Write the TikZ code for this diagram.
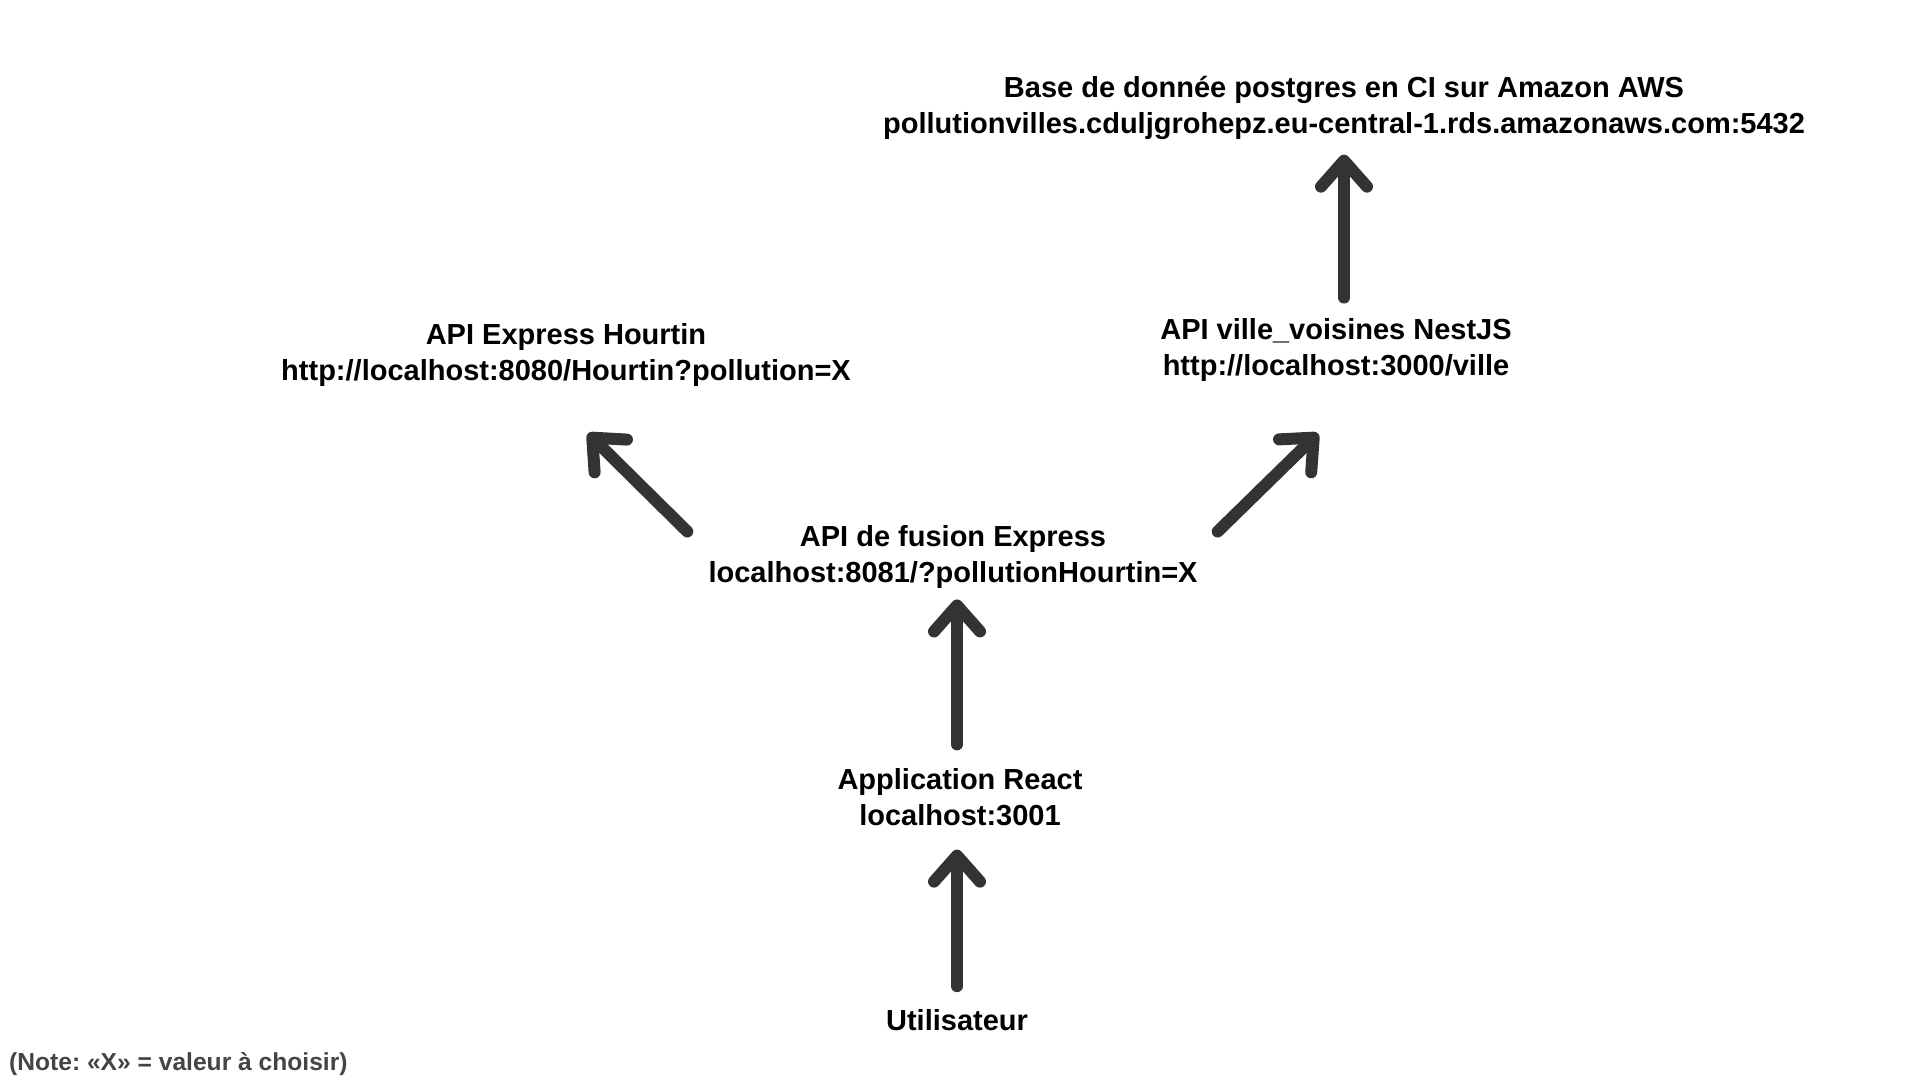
\documentclass[tikz,border=0pt]{standalone}
\usepackage{fontspec}
\setmainfont{Liberation Sans}
\usepackage{xcolor}
\usepackage{tikz}
\usetikzlibrary{arrows.meta}

\definecolor{arrowgray}{HTML}{333333}
\definecolor{notegray}{HTML}{444444}

\begin{document}
\frenchspacing
\begin{tikzpicture}[x=1pt, y=1pt]
          % Define styles
          \tikzstyle{service} = [align=center, inner sep=0pt, font=\fontsize{29}{35.5}\selectfont\bfseries]
          \tikzstyle{flow} = [arrowgray, line width=12pt, line cap=round, line join=round,
                              -{Straight Barb[length=26pt, width=46pt, round]}]

          % Page frame
          \useasboundingbox (0,0) rectangle (1920,1080);

          % Services
          \node[service] (db)      at (1344,972) {Base de donnée postgres en CI sur Amazon AWS\\pollutionvilles.cduljgrohepz.eu-central-1.rds.amazonaws.com:5432};
          \node[service] (nest)    at (1336,730) {API ville\_voisines NestJS\\http://localhost:3000/ville};
          \node[service] (hourtin) at (566,725)  {API Express Hourtin\\http://localhost:8080/Hourtin?pollution=X};
          \node[service] (fusion)  at (953,523)  {API de fusion Express\\localhost:8081/?pollutionHourtin=X};
          \node[service] (react)   at (960,283)  {Application React\\localhost:3001};
          \node[service] (user)    at (957,60)   {Utilisateur};

          % Note
          \node[anchor=west, inner sep=0pt, notegray, font=\fontsize{24.6}{29}\selectfont\bfseries] (note) at (9,15.5) {(Note: «X» = valeur à choisir)};

          % Requests
          \draw[flow, shorten <=23pt, shorten >=24pt] (user.north) -- (user.north |- react.south);
          \draw[flow, shorten <=24pt, shorten >=11pt] (react.north -| user.north) -- (user.north |- fusion.south);
          \draw[flow] ([shift={(-21,-6)}]fusion.north west) -- ([shift={(22,-47)}]hourtin.south);
          \draw[flow] ([shift={(20,-6)}]fusion.north east) -- ([shift={(-18,-52)}]nest.south);
          \draw[flow, shorten <=21pt, shorten >=15pt] (db.south |- nest.north) -- (db.south);

     \end{tikzpicture}
\end{document}
